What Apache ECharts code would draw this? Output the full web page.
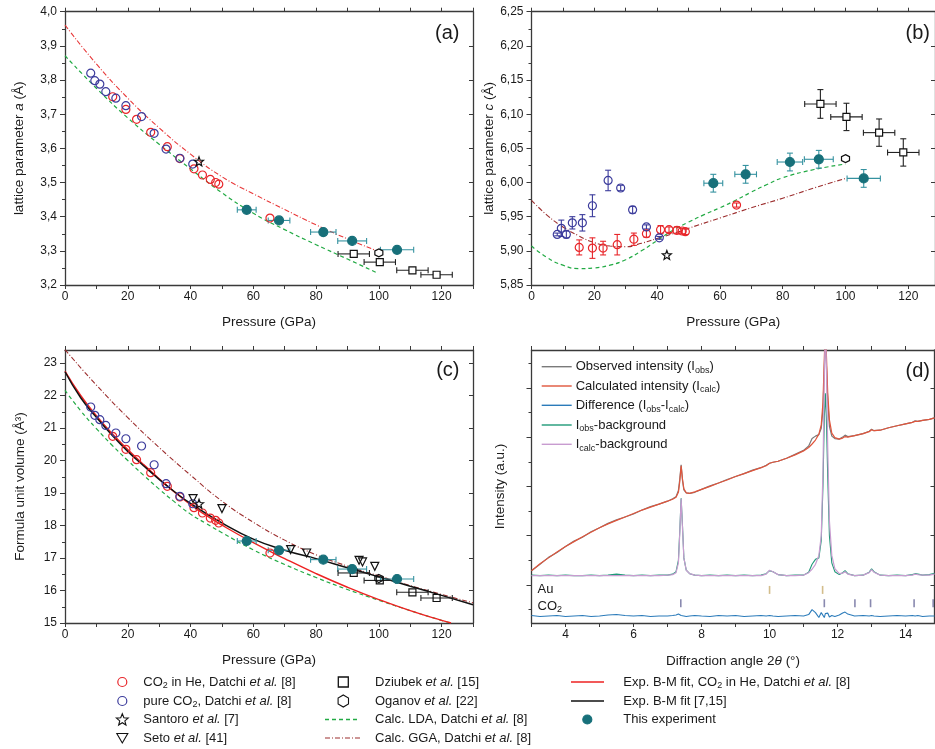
<!DOCTYPE html>
<html><head><meta charset="utf-8">
<script src="https://cdn.jsdelivr.net/npm/echarts@6.0.0/dist/echarts.min.js"></script>
<style>html,body{margin:0;padding:0;background:#fff}#c{width:935px;height:749px}</style>
</head><body><div id="c"></div>
<script>
// ================= DATA =================
// CO2 in He, Datchi et al. [8]
const heP   = [15.2,19.4,22.8,27.3,32.6,36.6,41.1,43.8,46.3,48.0,49.0,65.3];
const heA   = [3.751,3.714,3.685,3.647,3.605,3.570,3.540,3.522,3.509,3.500,3.495,3.396];
const heC   = [5.905,5.904,5.904,5.909,5.917,5.925,5.931,5.931,5.930,5.929,5.928,5.967];
const heCerr= [0.011,0.015,0.010,0.015,0.009,0.005,0.006,0.004,0.005,0.004,0.004,0.003];
const heV   = [20.744,20.344,20.026,19.626,19.205,18.877,18.550,18.385,18.230,18.160,18.077,17.154];
// pure CO2, Datchi et al. [8]
const pureP   = [8.2,9.5,11.1,13.0,16.2,19.4,24.4,28.4,32.2,36.6,40.7];
const pureA   = [3.820,3.798,3.788,3.766,3.747,3.725,3.693,3.644,3.598,3.571,3.554];
const pureC   = [5.924,5.933,5.924,5.941,5.941,5.966,6.003,5.992,5.960,5.935,5.919];
const pureCerr= [0.002,0.012,0.005,0.009,0.012,0.016,0.015,0.004,0.005,0.003,0.002];
const pureV   = [21.646,21.390,21.256,21.080,20.846,20.670,20.446,19.870,19.287,18.897,18.670];
// Santoro et al. [7]
const santP_a=[42.7], santA=[3.562];
const santP_b=[43.1], santC=[5.894];
const santP_c=[42.7], santV=[18.67];
// Seto et al. [41]
const setoP = [40.8,50.0,71.9,77.0,93.7,94.8,98.7];
const setoV = [18.83,18.52,17.26,17.154,16.93,16.88,16.745];
// This experiment
const expP    = [57.9,68.2,82.3,91.5,105.8];
const expPerr = [3.0,3.45,4.05,4.6,5.3];
const expA    = [3.420,3.389,3.355,3.329,3.303];
const expC    = [5.999,6.012,6.030,6.034,6.006];
const expCerr = [0.013,0.013,0.013,0.013,0.013];
const expV    = [17.523,17.237,16.950,16.660,16.354];
// Dziubek et al. [15]
const dzP    = [92.0,100.3,110.7,118.4];
const dzPerr = [5.0,5.0,5.0,5.0];
const dzA    = [3.291,3.267,3.243,3.230];
const dzC    = [6.115,6.096,6.073,6.044];
const dzCerr = [0.021,0.020,0.020,0.020];
const dzV    = [16.54,16.31,15.945,15.77];
// Oganov et al. [22]
const ogP=[100.0], ogA=[3.294], ogC=[6.035], ogV=[16.37];
// Calculations (Datchi et al. [8])
const ggaP_a=[0,10,20,30,40,50,60,70,80,90,100];
const ggaA  =[3.961,3.847,3.747,3.660,3.583,3.517,3.467,3.421,3.376,3.335,3.298];
const ldaP_a=[0,10,20,30,40,50,60,70,80,90,99.3];
const ldaA  =[3.871,3.776,3.689,3.612,3.540,3.470,3.410,3.362,3.318,3.276,3.236];
const ldaP_b=[0,5,10,15,20,25,30,35,40,45,50,55,60,65,70,75,80,90,100];
const ldaC  =[5.907,5.890,5.879,5.874,5.875,5.879,5.887,5.900,5.915,5.930,5.942,5.953,5.963,5.974,5.986,5.997,6.007,6.019,6.027];
const ggaP_b=[0,5,10,15,20,25,30,35,40,45,50,60,70,80,90,100];
const ggaC  =[5.974,5.952,5.935,5.922,5.912,5.907,5.906,5.911,5.918,5.925,5.933,5.948,5.963,5.977,5.992,6.006];
const ldaP_c=[0,5,10,15,20,25,30,35,40,45,50,60,70,80,90,100,110,120,123];
const ldaV  =[22.16,21.53,20.98,20.47,20.00,19.55,19.12,18.72,18.35,18.06,17.78,17.25,16.80,16.40,16.03,15.70,15.38,15.08,15.00];
const ggaP_c=[0,10,20,30,40,50,60,70,80,90,100,110,120,130];
const ggaV  =[23.41,22.32,21.32,20.40,19.55,18.75,18.10,17.55,17.10,16.75,16.45,16.15,15.88,15.62];
// Birch-Murnaghan fits
const bmHeP=[0,5,10,15,20,25,30,35,40,45,50,60,70,80,90,100,110,120,123];
const bmHeV=[22.75,22.00,21.38,20.83,20.34,19.88,19.44,19.02,18.64,18.31,18.01,17.47,16.98,16.52,16.10,15.72,15.38,15.08,15.00];
const bmP  =[0,5,10,15,20,25,30,35,40,50,60,70,80,90,100,110,120,130];
const bmV  =[22.73,21.93,21.33,20.78,20.28,19.84,19.42,19.03,18.68,18.08,17.58,17.24,16.98,16.70,16.42,16.13,15.85,15.56];
// Panel (d): diffraction pattern (arbitrary intensity units)
const dX = [3.0,3.25,3.5,3.75,4.0,4.25,4.5,4.75,5.0,5.25,5.5,5.75,6.0,6.25,6.5,6.75,7.0,7.15,7.25,7.32,7.36,7.4,7.44,7.48,7.55,7.65,7.8,8.0,8.25,8.5,8.75,9.0,9.25,9.5,9.75,9.9,10.0,10.1,10.25,10.5,10.75,11.0,11.15,11.25,11.35,11.45,11.52,11.57,11.61,11.64,11.67,11.71,11.76,11.83,11.92,12.05,12.15,12.22,12.3,12.5,12.75,12.93,13.0,13.07,13.25,13.5,13.75,14.0,14.2,14.28,14.36,14.5,14.7,14.85];
const dCalc = [0.29,0.43,0.55,0.67,0.78, 0.88,0.98,1.07,1.16,1.24, 1.31,1.38,1.45,1.52,1.58, 1.64,1.70,1.74,1.78,1.88, 2.10,2.42,2.15,1.95,1.87, 1.86,1.89,1.94,2.00,2.07, 2.13,2.20,2.26,2.32,2.38, 2.42,2.47,2.49,2.51,2.57, 2.64,2.72,2.79,2.86,2.94, 3.06,3.25,3.70,4.60,5.20, 4.70,3.90,3.35,3.08,2.99, 2.96,2.98,3.01,3.00,3.03, 3.07,3.11,3.15,3.13,3.14, 3.19,3.23,3.27,3.30,3.32, 3.32,3.34,3.36,3.39];
const dObs  = [0.29,0.42,0.56,0.66,0.78, 0.89,0.97,1.08,1.16,1.25, 1.32,1.38,1.44,1.52,1.59, 1.64,1.70,1.75,1.79,1.92, 2.15,2.44,2.12,1.93,1.87, 1.86,1.88,1.94,2.01,2.07, 2.14,2.20,2.26,2.33,2.38, 2.43,2.47,2.49,2.51,2.57, 2.65,2.73,2.82,2.97,3.02, 3.05,3.18,3.55,4.40,5.10, 4.50,3.75,3.22,3.02,2.97, 2.96,3.00,3.04,3.01,3.03, 3.07,3.12,3.16,3.13,3.14, 3.19,3.23,3.27,3.30,3.33, 3.32,3.34,3.36,3.39];
const dObsBg = [0.20,0.19,0.20,0.19,0.20, 0.19,0.19,0.20,0.19,0.20, 0.22,0.20,0.19,0.20,0.19, 0.20,0.20,0.22,0.27,0.50, 1.10,1.76,1.20,0.55,0.30, 0.23,0.20,0.19,0.20,0.19, 0.20,0.19,0.20,0.19,0.20, 0.23,0.29,0.27,0.21,0.19, 0.20,0.20,0.26,0.42,0.52, 0.55,0.90,2.00,3.40,3.89, 3.40,2.20,1.00,0.45,0.27, 0.21,0.25,0.29,0.23,0.19, 0.20,0.26,0.33,0.27,0.20, 0.19,0.20,0.19,0.21,0.23, 0.22,0.20,0.21,0.24];
const dCalcBg = [0.19,0.19,0.19,0.19,0.19, 0.19,0.19,0.19,0.19,0.19, 0.19,0.19,0.19,0.19,0.19, 0.19,0.20,0.21,0.25,0.45, 1.05,1.75,1.15,0.55,0.30, 0.23,0.20,0.19,0.19,0.19, 0.19,0.19,0.19,0.19,0.19, 0.22,0.30,0.27,0.21,0.19, 0.19,0.20,0.25,0.32,0.42, 0.60,1.00,2.30,4.20,5.30, 4.50,2.80,1.30,0.60,0.33, 0.23,0.24,0.27,0.22,0.19, 0.20,0.25,0.31,0.26,0.20, 0.19,0.19,0.19,0.20,0.22, 0.21,0.20,0.20,0.22];
const dDiff = [-0.62,-0.64,-0.63,-0.62,-0.64, -0.63,-0.62,-0.64,-0.63,-0.61, -0.60,-0.62,-0.63,-0.62,-0.64, -0.63,-0.63,-0.62,-0.61,-0.59, -0.60,-0.62,-0.61,-0.63,-0.64, -0.63,-0.62,-0.63,-0.64,-0.62, -0.63,-0.62,-0.64,-0.63,-0.62, -0.63,-0.62,-0.63,-0.64,-0.63, -0.62,-0.63,-0.60,-0.50,-0.56, -0.66,-0.56,-0.54,-0.66,-0.58, -0.62,-0.57,-0.65,-0.62,-0.64, -0.61,-0.57,-0.55,-0.59,-0.63, -0.62,-0.63,-0.62,-0.63,-0.64, -0.63,-0.62,-0.63,-0.62,-0.63, -0.62,-0.64,-0.63,-0.63];
const auRefl  = [10.0,11.56];
const co2Refl = [7.39,11.61,12.51,12.97,14.25,14.81];
// tick labels
const pressTicks = [0,20,40,60,80,100,120];
const angleTicks = [4,6,8,10,12,14];

// ================= STYLE / LAYOUT =================
const FONT = "'Liberation Sans', Arial, Helvetica, sans-serif";
const AXC = '#3a3a3a';
const RED='#e8262a', BLUE='#3c3c9c', TEAL='#17707a', TEALBAR='#3592a0', GGA_A='#e8393a', GGA='#9c2e2e', LDA='#22aa44';
const AU_ROW=-0.10, CO2_ROW=-0.37;
const STAR='path://M50 0 L62.34 33.01 L97.55 34.55 L69.97 56.49 L79.39 90.45 L50 71 L20.61 90.45 L30.03 56.49 L2.45 34.55 L37.66 33.01 Z';
const HEX='path://M50 0 L93.3 25 L93.3 75 L50 100 L6.7 75 L6.7 25 Z';
const GRIDS=[
  {left:65, top:11.7, width:408, height:273.3},
  {left:531.5, top:11.7, width:403.5, height:273.3},
  {left:65, top:350, width:408, height:273},
  {left:531.5, top:350, width:403, height:273}
];
function seq(a,b,s){const r=[];for(let i=0;a+i*s<=b+1e-9;i++)r.push(+(a+i*s).toFixed(4));return r;}
const zip=(xs,ys)=>xs.map((x,i)=>[x,ys[i]]);
const RICHN={i:{fontStyle:'italic',fontSize:13.5,fontFamily:FONT,color:'#1a1a1a'}};
const nameStyle={fontSize:13.5,color:'#1a1a1a',fontFamily:FONT,rich:RICHN};

function xPair(gi,min,max,ticks,labels,name,gap){
  const line={onZero:false,lineStyle:{color:AXC,width:1.3}};
  const tk={show:true,customValues:ticks,length:4,inside:false,lineStyle:{color:AXC,width:1}};
  return [
    {type:'value',gridIndex:gi,position:'bottom',min,max,axisLine:line,axisTick:tk,
     axisLabel:{customValues:labels,formatter:v=>String(v),fontSize:12,color:'#1a1a1a',fontFamily:FONT,margin:6},
     splitLine:{show:false},name,nameLocation:'middle',nameGap:gap,nameTextStyle:nameStyle},
    {type:'value',gridIndex:gi,position:'top',min,max,axisLine:line,axisTick:tk,axisLabel:{show:false},splitLine:{show:false}}
  ];
}
function yTriple(gi,min,max,majors,minors,fmt,name,gap){
  const line={onZero:false,lineStyle:{color:AXC,width:1.3}};
  return [
    {type:'value',gridIndex:gi,position:'left',min,max,axisLine:line,
     axisTick:{show:true,customValues:majors,length:5,lineStyle:{color:AXC,width:1}},
     axisLabel:fmt?{customValues:majors,formatter:fmt,fontSize:12,color:'#1a1a1a',fontFamily:FONT,margin:8}:{show:false},
     splitLine:{show:false},name,nameLocation:'middle',nameGap:gap,nameRotate:90,nameTextStyle:nameStyle},
    {type:'value',gridIndex:gi,position:'left',min,max,axisLine:{show:false,onZero:false},
     axisTick:{show:true,customValues:minors,length:3,lineStyle:{color:AXC,width:1}},axisLabel:{show:false},splitLine:{show:false}},
    {type:'value',gridIndex:gi,position:'right',min,max,axisLine:line,
     axisTick:{show:true,customValues:majors,length:4,inside:true,lineStyle:{color:AXC,width:1}},axisLabel:{show:false},splitLine:{show:false}}
  ];
}
const comma=d=>v=>v.toFixed(d).replace('.',',');
const xAxis=[
  ...xPair(0,0,130,seq(0,130,10),pressTicks,'Pressure (GPa)',30),
  ...xPair(1,0,128.5,seq(0,120,10),pressTicks,'Pressure (GPa)',30),
  ...xPair(2,0,130,seq(0,130,10),pressTicks,'Pressure (GPa)',30),
  ...xPair(3,3,14.85,seq(3,14,1),angleTicks,'Diffraction angle 2{i|θ} (°)',31)
];
const yAxis=[
  ...yTriple(0,3.2,4.0,seq(3.2,4.0,0.1),seq(3.25,3.95,0.1),comma(1),'lattice parameter {i|a} (Å)',39),
  ...yTriple(1,5.85,6.25,seq(5.85,6.25,0.05),seq(5.875,6.225,0.05),comma(2),'lattice parameter {i|c} (Å)',35),
  ...yTriple(2,15,23.4,seq(15,23,1),seq(15.5,22.5,1),v=>String(Math.round(v)),'Formula unit volume (Å³)',38),
  ...yTriple(3,-0.771,4.767,seq(0,4,1),seq(-0.5,4.5,1),null,'Intensity (a.u.)',24)
];

// ================= SERIES =================
function lineS(p,name,xs,ys,color,type,width,smooth){
  return {type:'line',name,xAxisIndex:2*p,yAxisIndex:3*p,data:zip(xs,ys),showSymbol:false,symbol:'none',
    smooth:smooth===undefined?true:smooth,lineStyle:{color,width,type},z:2,silent:true,animation:false};
}
function scat(p,name,xs,ys,symbol,size,fill,stroke,rotate){
  return {type:'scatter',name,xAxisIndex:2*p,yAxisIndex:3*p,data:zip(xs,ys),symbol,symbolSize:size,symbolRotate:rotate||0,
    itemStyle:{color:fill,borderColor:stroke,borderWidth:1.2,opacity:1},z:4,silent:true};
}
function errS(p,name,xs,ys,ex,ey,color){
  const data=xs.map((x,i)=>[x,ys[i],ex?ex[i]:0,ey?ey[i]:0]);
  return {type:'custom',name,xAxisIndex:2*p,yAxisIndex:3*p,data,z:3,silent:true,encode:{x:0,y:1},
    renderItem(params,api){
      const x=api.value(0),y=api.value(1),dx=api.value(2),dy=api.value(3);
      const st={stroke:color,lineWidth:1.1,fill:null};
      const ch=[],cap=3;
      if(dx>0){const a=api.coord([x-dx,y]),b=api.coord([x+dx,y]);
        ch.push({type:'line',shape:{x1:a[0],y1:a[1],x2:b[0],y2:b[1]},style:st});
        ch.push({type:'line',shape:{x1:a[0],y1:a[1]-cap,x2:a[0],y2:a[1]+cap},style:st});
        ch.push({type:'line',shape:{x1:b[0],y1:b[1]-cap,x2:b[0],y2:b[1]+cap},style:st});}
      if(dy>0){const a=api.coord([x,y-dy]),b=api.coord([x,y+dy]);
        ch.push({type:'line',shape:{x1:a[0],y1:a[1],x2:b[0],y2:b[1]},style:st});
        ch.push({type:'line',shape:{x1:a[0]-cap,y1:a[1],x2:a[0]+cap,y2:a[1]},style:st});
        ch.push({type:'line',shape:{x1:b[0]-cap,y1:b[1],x2:b[0]+cap,y2:b[1]},style:st});}
      return {type:'group',children:ch};
    }};
}
const OPEN='rgba(255,255,255,0)';
const series=[
  // (a)
  lineS(0,'Calc. GGA',ggaP_a,ggaA,GGA_A,[5,2,1,2],1.1),
  lineS(0,'Calc. LDA',ldaP_a,ldaA,LDA,[4,3],1.2),
  errS(0,'err exp a',expP,expA,expPerr,null,TEALBAR),
  errS(0,'err dz a',dzP,dzA,dzPerr,null,'#222'),
  scat(0,'CO2 in He',heP,heA,'circle',8,OPEN,RED),
  scat(0,'pure CO2',pureP,pureA,'circle',8,OPEN,BLUE),
  scat(0,'Santoro',santP_a,santA,STAR,9,OPEN,'#111'),
  scat(0,'Dziubek',dzP,dzA,'rect',7,'#fff','#111'),
  scat(0,'Oganov',ogP,ogA,HEX,8,'#fff','#111'),
  scat(0,'This experiment',expP,expA,'circle',9,TEAL,TEAL),
  // (b)
  lineS(1,'Calc. GGA',ggaP_b,ggaC,GGA,[5,2,1,2],1.1),
  lineS(1,'Calc. LDA',ldaP_b,ldaC,LDA,[4,3],1.2),
  errS(1,'err he b',heP,heC,null,heCerr,RED),
  errS(1,'err pure b',pureP,pureC,null,pureCerr,BLUE),
  errS(1,'err exp b',expP,expC,expPerr,expCerr,TEALBAR),
  errS(1,'err dz b',dzP,dzC,dzPerr,dzCerr,'#222'),
  scat(1,'CO2 in He',heP,heC,'circle',8,OPEN,RED),
  scat(1,'pure CO2',pureP,pureC,'circle',8,OPEN,BLUE),
  scat(1,'Santoro',santP_b,santC,STAR,9,OPEN,'#111'),
  scat(1,'Dziubek',dzP,dzC,'rect',7,'#fff','#111'),
  scat(1,'Oganov',ogP,ogC,HEX,8,'#fff','#111'),
  scat(1,'This experiment',expP,expC,'circle',9,TEAL,TEAL),
  // (c)
  lineS(2,'Calc. GGA',ggaP_c,ggaV,GGA,[5,2,1,2],1.1),
  lineS(2,'Calc. LDA',ldaP_c,ldaV,LDA,[4,3],1.2),
  lineS(2,'B-M fit He',bmHeP,bmHeV,'#ee2222','solid',1.4),
  lineS(2,'B-M fit',bmP,bmV,'#111','solid',1.5),
  errS(2,'err exp c',expP,expV,expPerr,null,TEALBAR),
  errS(2,'err dz c',dzP,dzV,dzPerr,null,'#222'),
  scat(2,'CO2 in He',heP,heV,'circle',8,OPEN,RED),
  scat(2,'pure CO2',pureP,pureV,'circle',8,OPEN,BLUE),
  scat(2,'Santoro',santP_c,santV,STAR,9,OPEN,'#111'),
  scat(2,'Seto',setoP,setoV,'triangle',8,OPEN,'#111',180),
  scat(2,'Dziubek',dzP,dzV,'rect',7,OPEN,'#111'),
  scat(2,'Oganov',ogP,ogV,HEX,8,OPEN,'#111'),
  scat(2,'This experiment',expP,expV,'circle',9,TEAL,TEAL),
  // (d)
  lineS(3,'Observed intensity',dX,dObs,'#7a7a7a','solid',1.2,false),
  lineS(3,'Calculated intensity',dX,dCalc,'#e0553c','solid',1.2,false),
  lineS(3,'Difference',dX,dDiff,'#2b7bba','solid',1.1,false),
  lineS(3,'Iobs-background',dX,dObsBg,'#1f9a78','solid',1.1,false),
  lineS(3,'Icalc-background',dX,dCalcBg,'#c89cd0','solid',1.2,false),
  {type:'scatter',name:'Au',xAxisIndex:6,yAxisIndex:9,data:auRefl.map(x=>[x,AU_ROW]),symbol:'rect',symbolSize:[1.6,8],itemStyle:{color:'#c8ad6e'},silent:true},
  {type:'scatter',name:'CO2',xAxisIndex:6,yAxisIndex:9,data:co2Refl.map(x=>[x,CO2_ROW]),symbol:'rect',symbolSize:[1.6,8],itemStyle:{color:'#6b6b9b'},silent:true}
];

// ================= LEGENDS / LABELS (graphic) =================
const RICH={sub:{fontSize:9,verticalAlign:'bottom',lineHeight:17,fontFamily:FONT},
            i:{fontStyle:'italic',fontSize:13,lineHeight:16,fontFamily:FONT}};
const gr=[];
function txt(x,y,t,extra){gr.push({type:'text',x,y,silent:true,style:Object.assign({text:t,fill:'#1a1a1a',fontSize:13,fontFamily:FONT,align:'left',verticalAlign:'middle',lineHeight:16,rich:RICH},extra||{})});}
function circ(cx,cy,r,stroke,fill){gr.push({type:'circle',silent:true,shape:{cx,cy,r},style:{stroke,fill:fill||'none',lineWidth:1.2}});}
function lin(x1,x2,y,stroke,dash,w){gr.push({type:'line',silent:true,shape:{x1,y1:y,x2,y2:y},style:{stroke,lineWidth:w||1.3,lineDash:dash||null}});}
function poly(pts,stroke){gr.push({type:'polygon',silent:true,shape:{points:pts},style:{stroke,fill:'none',lineWidth:1.1}});}
function starPts(cx,cy,R,r){const p=[];for(let k=0;k<10;k++){const a=-Math.PI/2+k*Math.PI/5,rr=k%2?r:R;p.push([cx+rr*Math.cos(a),cy+rr*Math.sin(a)]);}return p;}
function hexPts(cx,cy,R){const p=[];for(let k=0;k<6;k++){const a=-Math.PI/2+k*Math.PI/3;p.push([cx+R*Math.cos(a),cy+R*Math.sin(a)]);}return p;}

const ROWS=[682,701,719.5,738];
// column 1
circ(122.3,ROWS[0],4.5,RED); txt(143.3,ROWS[0],'CO{sub|2} in He, Datchi {i|et al.} [8]');
circ(122.3,ROWS[1],4.5,BLUE); txt(143.3,ROWS[1],'pure CO{sub|2}, Datchi {i|et al.} [8]');
poly(starPts(122.3,ROWS[2]+0.5,6.2,2.7),'#111'); txt(143.3,ROWS[2],'Santoro {i|et al.} [7]');
poly([[116.8,ROWS[3]-4.5],[127.8,ROWS[3]-4.5],[122.3,ROWS[3]+5]],'#111'); txt(143.3,ROWS[3],'Seto {i|et al.} [41]');
// column 2
gr.push({type:'rect',silent:true,shape:{x:338.3,y:ROWS[0]-5,width:10,height:10},style:{stroke:'#111',fill:'none',lineWidth:1.3}});
txt(375,ROWS[0],'Dziubek {i|et al.} [15]');
poly(hexPts(343.3,ROWS[1],6),'#111'); txt(375,ROWS[1],'Oganov {i|et al.} [22]');
lin(325,360,ROWS[2],LDA,[4,3],1.3); txt(375,ROWS[2],'Calc. LDA, Datchi {i|et al.} [8]');
lin(325,360,ROWS[3],GGA,[5,2,1,2],1.2); txt(375,ROWS[3],'Calc. GGA, Datchi {i|et al.} [8]');
// column 3
lin(571,604,ROWS[0],'#ee2222',null,1.4); txt(623.3,ROWS[0],'Exp. B-M fit, CO{sub|2} in He, Datchi {i|et al.} [8]');
lin(571,604,ROWS[1],'#111',null,1.4); txt(623.3,ROWS[1],'Exp. B-M fit [7,15]');
circ(587.3,ROWS[2],4.5,TEAL,TEAL); txt(623.3,ROWS[2],'This experiment');
// panel (d) legend
const DL=[366.7,386,405.3,425,444.3];
const DC=['#7a7a7a','#e0553c','#2b7bba','#1f9a78','#c89cd0'];
const DT=['Observed intensity (I{sub|obs})','Calculated intensity (I{sub|calc})','Difference (I{sub|obs}-I{sub|calc})','I{sub|obs}-background','I{sub|calc}-background'];
DL.forEach((y,k)=>{lin(541.7,571.7,y,DC[k],null,1.4); txt(575.7,y,DT[k]);});
txt(537.5,589,'Au'); txt(537.5,606,'CO{sub|2}');
// panel labels
[['(a)',459.5,33],['(b)',930,33],['(c)',459.5,370],['(d)',930,371.5]].forEach(([t,x,y])=>txt(x,y,t,{fontSize:20,align:'right',lineHeight:22}));

const option={
  animation:false,backgroundColor:'#fff',textStyle:{fontFamily:FONT},
  grid:GRIDS.map(g=>Object.assign({containLabel:false,outerBoundsMode:'none'},g)),
  xAxis,yAxis,series,
  graphic:{elements:gr}
};
const chart=echarts.init(document.getElementById('c'),null,{renderer:'canvas',width:935,height:749});
chart.setOption(option);
</script></body></html>
